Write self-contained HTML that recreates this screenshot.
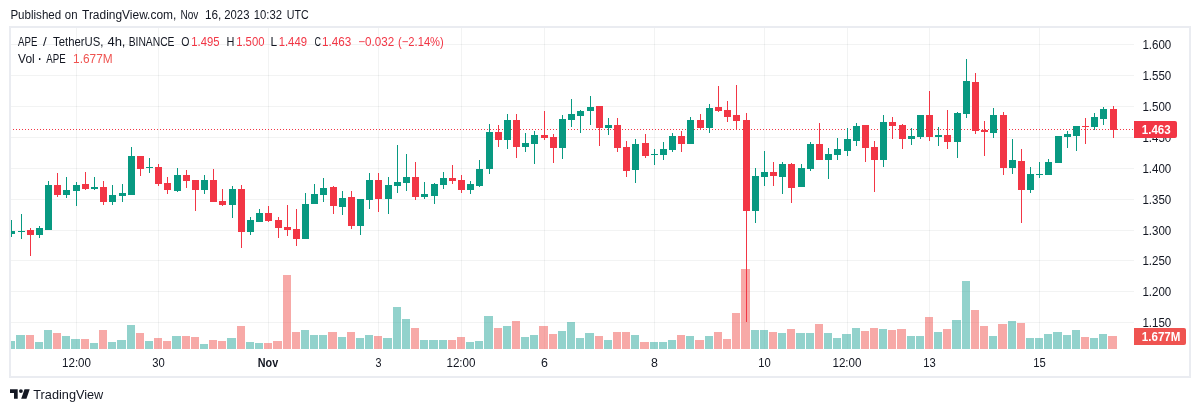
<!DOCTYPE html>
<html><head><meta charset="utf-8">
<style>
html,body{margin:0;padding:0;background:#fff;}
body{width:1200px;height:412px;position:relative;overflow:hidden;font-family:"Liberation Sans",sans-serif;}
svg{position:absolute;left:0;top:0;font-family:"Liberation Sans",sans-serif;}
.txt{will-change:transform;}
</style></head><body>
<svg width="1200" height="412" viewBox="0 0 1200 412" shape-rendering="crispEdges">
<rect x="10" y="27" width="1180" height="350" fill="none" stroke="#EAECF1" stroke-width="2"/>
<rect x="11" y="44" width="1123" height="1" fill="rgba(42,46,57,0.06)"/>
<rect x="11" y="75" width="1123" height="1" fill="rgba(42,46,57,0.06)"/>
<rect x="11" y="106" width="1123" height="1" fill="rgba(42,46,57,0.06)"/>
<rect x="11" y="137" width="1123" height="1" fill="rgba(42,46,57,0.06)"/>
<rect x="11" y="168" width="1123" height="1" fill="rgba(42,46,57,0.06)"/>
<rect x="11" y="199" width="1123" height="1" fill="rgba(42,46,57,0.06)"/>
<rect x="11" y="230" width="1123" height="1" fill="rgba(42,46,57,0.06)"/>
<rect x="11" y="260" width="1123" height="1" fill="rgba(42,46,57,0.06)"/>
<rect x="11" y="291" width="1123" height="1" fill="rgba(42,46,57,0.06)"/>
<rect x="11" y="322" width="1123" height="1" fill="rgba(42,46,57,0.06)"/>
<rect x="76" y="28" width="1" height="321" fill="rgba(42,46,57,0.06)"/>
<rect x="158" y="28" width="1" height="321" fill="rgba(42,46,57,0.06)"/>
<rect x="268" y="28" width="1" height="321" fill="rgba(42,46,57,0.06)"/>
<rect x="378" y="28" width="1" height="321" fill="rgba(42,46,57,0.06)"/>
<rect x="461" y="28" width="1" height="321" fill="rgba(42,46,57,0.06)"/>
<rect x="544" y="28" width="1" height="321" fill="rgba(42,46,57,0.06)"/>
<rect x="654" y="28" width="1" height="321" fill="rgba(42,46,57,0.06)"/>
<rect x="764" y="28" width="1" height="321" fill="rgba(42,46,57,0.06)"/>
<rect x="847" y="28" width="1" height="321" fill="rgba(42,46,57,0.06)"/>
<rect x="929" y="28" width="1" height="321" fill="rgba(42,46,57,0.06)"/>
<rect x="1039" y="28" width="1" height="321" fill="rgba(42,46,57,0.06)"/>
<rect x="11" y="341" width="4" height="8" fill="rgba(38,166,154,0.5)"/>
<rect x="16" y="335" width="9" height="14" fill="rgba(38,166,154,0.5)"/>
<rect x="26" y="335" width="8" height="14" fill="rgba(239,83,80,0.5)"/>
<rect x="35" y="342" width="8" height="7" fill="rgba(38,166,154,0.5)"/>
<rect x="44" y="330" width="8" height="19" fill="rgba(38,166,154,0.5)"/>
<rect x="53" y="333" width="8" height="16" fill="rgba(239,83,80,0.5)"/>
<rect x="62" y="336" width="8" height="13" fill="rgba(38,166,154,0.5)"/>
<rect x="71" y="339" width="9" height="10" fill="rgba(38,166,154,0.5)"/>
<rect x="81" y="339" width="8" height="10" fill="rgba(239,83,80,0.5)"/>
<rect x="90" y="343" width="8" height="6" fill="rgba(38,166,154,0.5)"/>
<rect x="99" y="330" width="8" height="19" fill="rgba(239,83,80,0.5)"/>
<rect x="108" y="342" width="8" height="7" fill="rgba(38,166,154,0.5)"/>
<rect x="117" y="340" width="9" height="9" fill="rgba(38,166,154,0.5)"/>
<rect x="127" y="325" width="8" height="24" fill="rgba(38,166,154,0.5)"/>
<rect x="136" y="333" width="8" height="16" fill="rgba(239,83,80,0.5)"/>
<rect x="145" y="341" width="8" height="8" fill="rgba(38,166,154,0.5)"/>
<rect x="154" y="338" width="8" height="11" fill="rgba(239,83,80,0.5)"/>
<rect x="163" y="341" width="8" height="8" fill="rgba(239,83,80,0.5)"/>
<rect x="172" y="336" width="9" height="13" fill="rgba(38,166,154,0.5)"/>
<rect x="182" y="336" width="8" height="13" fill="rgba(239,83,80,0.5)"/>
<rect x="191" y="337" width="8" height="12" fill="rgba(239,83,80,0.5)"/>
<rect x="200" y="344" width="8" height="5" fill="rgba(38,166,154,0.5)"/>
<rect x="209" y="340" width="8" height="9" fill="rgba(239,83,80,0.5)"/>
<rect x="218" y="341" width="8" height="8" fill="rgba(239,83,80,0.5)"/>
<rect x="227" y="338" width="9" height="11" fill="rgba(38,166,154,0.5)"/>
<rect x="237" y="326" width="8" height="23" fill="rgba(239,83,80,0.5)"/>
<rect x="246" y="342" width="8" height="7" fill="rgba(38,166,154,0.5)"/>
<rect x="255" y="343" width="8" height="6" fill="rgba(38,166,154,0.5)"/>
<rect x="264" y="343" width="8" height="6" fill="rgba(239,83,80,0.5)"/>
<rect x="273" y="341" width="9" height="8" fill="rgba(239,83,80,0.5)"/>
<rect x="283" y="275" width="8" height="74" fill="rgba(239,83,80,0.5)"/>
<rect x="292" y="332" width="8" height="17" fill="rgba(239,83,80,0.5)"/>
<rect x="301" y="330" width="8" height="19" fill="rgba(38,166,154,0.5)"/>
<rect x="310" y="335" width="8" height="14" fill="rgba(38,166,154,0.5)"/>
<rect x="319" y="335" width="8" height="14" fill="rgba(38,166,154,0.5)"/>
<rect x="328" y="332" width="9" height="17" fill="rgba(239,83,80,0.5)"/>
<rect x="338" y="337" width="8" height="12" fill="rgba(38,166,154,0.5)"/>
<rect x="347" y="332" width="8" height="17" fill="rgba(239,83,80,0.5)"/>
<rect x="356" y="338" width="8" height="11" fill="rgba(38,166,154,0.5)"/>
<rect x="365" y="335" width="8" height="14" fill="rgba(38,166,154,0.5)"/>
<rect x="374" y="336" width="8" height="13" fill="rgba(239,83,80,0.5)"/>
<rect x="383" y="338" width="9" height="11" fill="rgba(38,166,154,0.5)"/>
<rect x="393" y="307" width="8" height="42" fill="rgba(38,166,154,0.5)"/>
<rect x="402" y="319" width="8" height="30" fill="rgba(38,166,154,0.5)"/>
<rect x="411" y="328" width="8" height="21" fill="rgba(239,83,80,0.5)"/>
<rect x="420" y="340" width="8" height="9" fill="rgba(38,166,154,0.5)"/>
<rect x="429" y="340" width="9" height="9" fill="rgba(38,166,154,0.5)"/>
<rect x="439" y="340" width="8" height="9" fill="rgba(38,166,154,0.5)"/>
<rect x="448" y="340" width="8" height="9" fill="rgba(239,83,80,0.5)"/>
<rect x="457" y="337" width="8" height="12" fill="rgba(239,83,80,0.5)"/>
<rect x="466" y="342" width="8" height="7" fill="rgba(38,166,154,0.5)"/>
<rect x="475" y="341" width="8" height="8" fill="rgba(38,166,154,0.5)"/>
<rect x="484" y="316" width="9" height="33" fill="rgba(38,166,154,0.5)"/>
<rect x="494" y="328" width="8" height="21" fill="rgba(239,83,80,0.5)"/>
<rect x="503" y="326" width="8" height="23" fill="rgba(38,166,154,0.5)"/>
<rect x="512" y="321" width="8" height="28" fill="rgba(239,83,80,0.5)"/>
<rect x="521" y="337" width="8" height="12" fill="rgba(38,166,154,0.5)"/>
<rect x="530" y="335" width="8" height="14" fill="rgba(38,166,154,0.5)"/>
<rect x="539" y="326" width="9" height="23" fill="rgba(239,83,80,0.5)"/>
<rect x="549" y="334" width="8" height="15" fill="rgba(239,83,80,0.5)"/>
<rect x="558" y="331" width="8" height="18" fill="rgba(38,166,154,0.5)"/>
<rect x="567" y="322" width="8" height="27" fill="rgba(38,166,154,0.5)"/>
<rect x="576" y="338" width="8" height="11" fill="rgba(38,166,154,0.5)"/>
<rect x="585" y="333" width="9" height="16" fill="rgba(38,166,154,0.5)"/>
<rect x="595" y="336" width="8" height="13" fill="rgba(239,83,80,0.5)"/>
<rect x="604" y="340" width="8" height="9" fill="rgba(38,166,154,0.5)"/>
<rect x="613" y="332" width="8" height="17" fill="rgba(239,83,80,0.5)"/>
<rect x="622" y="332" width="8" height="17" fill="rgba(239,83,80,0.5)"/>
<rect x="631" y="335" width="8" height="14" fill="rgba(38,166,154,0.5)"/>
<rect x="640" y="342" width="9" height="7" fill="rgba(239,83,80,0.5)"/>
<rect x="650" y="342" width="8" height="7" fill="rgba(38,166,154,0.5)"/>
<rect x="659" y="342" width="8" height="7" fill="rgba(38,166,154,0.5)"/>
<rect x="668" y="340" width="8" height="9" fill="rgba(38,166,154,0.5)"/>
<rect x="677" y="335" width="8" height="14" fill="rgba(239,83,80,0.5)"/>
<rect x="686" y="336" width="8" height="13" fill="rgba(38,166,154,0.5)"/>
<rect x="695" y="340" width="9" height="9" fill="rgba(239,83,80,0.5)"/>
<rect x="705" y="336" width="8" height="13" fill="rgba(38,166,154,0.5)"/>
<rect x="714" y="332" width="8" height="17" fill="rgba(239,83,80,0.5)"/>
<rect x="723" y="339" width="8" height="10" fill="rgba(239,83,80,0.5)"/>
<rect x="732" y="313" width="8" height="36" fill="rgba(239,83,80,0.5)"/>
<rect x="741" y="269" width="9" height="80" fill="rgba(239,83,80,0.5)"/>
<rect x="751" y="330" width="8" height="19" fill="rgba(38,166,154,0.5)"/>
<rect x="760" y="330" width="8" height="19" fill="rgba(38,166,154,0.5)"/>
<rect x="769" y="332" width="8" height="17" fill="rgba(239,83,80,0.5)"/>
<rect x="778" y="333" width="8" height="16" fill="rgba(38,166,154,0.5)"/>
<rect x="787" y="329" width="8" height="20" fill="rgba(239,83,80,0.5)"/>
<rect x="796" y="333" width="9" height="16" fill="rgba(38,166,154,0.5)"/>
<rect x="806" y="333" width="8" height="16" fill="rgba(38,166,154,0.5)"/>
<rect x="815" y="324" width="8" height="25" fill="rgba(239,83,80,0.5)"/>
<rect x="824" y="333" width="8" height="16" fill="rgba(38,166,154,0.5)"/>
<rect x="833" y="338" width="8" height="11" fill="rgba(38,166,154,0.5)"/>
<rect x="842" y="334" width="9" height="15" fill="rgba(38,166,154,0.5)"/>
<rect x="852" y="328" width="8" height="21" fill="rgba(38,166,154,0.5)"/>
<rect x="861" y="331" width="8" height="18" fill="rgba(239,83,80,0.5)"/>
<rect x="870" y="328" width="8" height="21" fill="rgba(239,83,80,0.5)"/>
<rect x="879" y="329" width="8" height="20" fill="rgba(38,166,154,0.5)"/>
<rect x="888" y="330" width="8" height="19" fill="rgba(239,83,80,0.5)"/>
<rect x="897" y="329" width="9" height="20" fill="rgba(239,83,80,0.5)"/>
<rect x="907" y="336" width="8" height="13" fill="rgba(38,166,154,0.5)"/>
<rect x="916" y="336" width="8" height="13" fill="rgba(38,166,154,0.5)"/>
<rect x="925" y="317" width="8" height="32" fill="rgba(239,83,80,0.5)"/>
<rect x="934" y="332" width="8" height="17" fill="rgba(38,166,154,0.5)"/>
<rect x="943" y="329" width="8" height="20" fill="rgba(239,83,80,0.5)"/>
<rect x="952" y="320" width="9" height="29" fill="rgba(38,166,154,0.5)"/>
<rect x="962" y="281" width="8" height="68" fill="rgba(38,166,154,0.5)"/>
<rect x="971" y="310" width="8" height="39" fill="rgba(239,83,80,0.5)"/>
<rect x="980" y="326" width="8" height="23" fill="rgba(239,83,80,0.5)"/>
<rect x="989" y="336" width="8" height="13" fill="rgba(38,166,154,0.5)"/>
<rect x="998" y="324" width="9" height="25" fill="rgba(239,83,80,0.5)"/>
<rect x="1008" y="321" width="8" height="28" fill="rgba(38,166,154,0.5)"/>
<rect x="1017" y="323" width="8" height="26" fill="rgba(239,83,80,0.5)"/>
<rect x="1026" y="338" width="8" height="11" fill="rgba(38,166,154,0.5)"/>
<rect x="1035" y="338" width="8" height="11" fill="rgba(38,166,154,0.5)"/>
<rect x="1044" y="334" width="8" height="15" fill="rgba(38,166,154,0.5)"/>
<rect x="1053" y="332" width="9" height="17" fill="rgba(38,166,154,0.5)"/>
<rect x="1063" y="335" width="8" height="14" fill="rgba(38,166,154,0.5)"/>
<rect x="1072" y="330" width="8" height="19" fill="rgba(38,166,154,0.5)"/>
<rect x="1081" y="337" width="8" height="12" fill="rgba(239,83,80,0.5)"/>
<rect x="1090" y="338" width="8" height="11" fill="rgba(38,166,154,0.5)"/>
<rect x="1099" y="334" width="8" height="15" fill="rgba(38,166,154,0.5)"/>
<rect x="1108" y="336" width="9" height="13" fill="rgba(239,83,80,0.5)"/>
<path d="M11 129.5 H1134" stroke="#F23645" stroke-width="1" stroke-dasharray="1 2" stroke-dashoffset="-2"/>
<rect x="11" y="220" width="1" height="17" fill="#089981"/>
<rect x="11" y="231" width="4" height="3" fill="#089981"/>
<rect x="21" y="214" width="1" height="25" fill="#089981"/>
<rect x="18" y="231" width="7" height="1" fill="#089981"/>
<rect x="30" y="228" width="1" height="28" fill="#F23645"/>
<rect x="27" y="230" width="7" height="5" fill="#F23645"/>
<rect x="39" y="226" width="1" height="12" fill="#089981"/>
<rect x="36" y="228" width="7" height="7" fill="#089981"/>
<rect x="48" y="181" width="1" height="49" fill="#089981"/>
<rect x="45" y="185" width="7" height="45" fill="#089981"/>
<rect x="57" y="173" width="1" height="24" fill="#F23645"/>
<rect x="54" y="185" width="7" height="10" fill="#F23645"/>
<rect x="66" y="177" width="1" height="21" fill="#089981"/>
<rect x="63" y="190" width="7" height="5" fill="#089981"/>
<rect x="76" y="182" width="1" height="24" fill="#089981"/>
<rect x="73" y="185" width="7" height="6" fill="#089981"/>
<rect x="85" y="172" width="1" height="18" fill="#F23645"/>
<rect x="82" y="184" width="7" height="5" fill="#F23645"/>
<rect x="94" y="177" width="1" height="13" fill="#089981"/>
<rect x="91" y="187" width="7" height="2" fill="#089981"/>
<rect x="103" y="181" width="1" height="24" fill="#F23645"/>
<rect x="100" y="187" width="7" height="15" fill="#F23645"/>
<rect x="112" y="185" width="1" height="20" fill="#089981"/>
<rect x="109" y="195" width="7" height="7" fill="#089981"/>
<rect x="122" y="184" width="1" height="18" fill="#089981"/>
<rect x="119" y="193" width="7" height="3" fill="#089981"/>
<rect x="131" y="147" width="1" height="48" fill="#089981"/>
<rect x="128" y="156" width="7" height="39" fill="#089981"/>
<rect x="140" y="156" width="1" height="20" fill="#F23645"/>
<rect x="137" y="156" width="7" height="13" fill="#F23645"/>
<rect x="149" y="158" width="1" height="15" fill="#089981"/>
<rect x="146" y="167" width="7" height="1" fill="#089981"/>
<rect x="158" y="164" width="1" height="22" fill="#F23645"/>
<rect x="155" y="167" width="7" height="17" fill="#F23645"/>
<rect x="167" y="177" width="1" height="17" fill="#F23645"/>
<rect x="164" y="183" width="7" height="7" fill="#F23645"/>
<rect x="177" y="168" width="1" height="24" fill="#089981"/>
<rect x="174" y="175" width="7" height="16" fill="#089981"/>
<rect x="186" y="170" width="1" height="18" fill="#F23645"/>
<rect x="183" y="175" width="7" height="6" fill="#F23645"/>
<rect x="195" y="180" width="1" height="31" fill="#F23645"/>
<rect x="192" y="180" width="7" height="10" fill="#F23645"/>
<rect x="204" y="175" width="1" height="19" fill="#089981"/>
<rect x="201" y="180" width="7" height="10" fill="#089981"/>
<rect x="213" y="169" width="1" height="33" fill="#F23645"/>
<rect x="210" y="180" width="7" height="22" fill="#F23645"/>
<rect x="222" y="189" width="1" height="17" fill="#F23645"/>
<rect x="219" y="201" width="7" height="4" fill="#F23645"/>
<rect x="232" y="186" width="1" height="32" fill="#089981"/>
<rect x="229" y="189" width="7" height="16" fill="#089981"/>
<rect x="241" y="185" width="1" height="63" fill="#F23645"/>
<rect x="238" y="189" width="7" height="43" fill="#F23645"/>
<rect x="250" y="217" width="1" height="18" fill="#089981"/>
<rect x="247" y="220" width="7" height="12" fill="#089981"/>
<rect x="259" y="209" width="1" height="13" fill="#089981"/>
<rect x="256" y="213" width="7" height="9" fill="#089981"/>
<rect x="268" y="206" width="1" height="16" fill="#F23645"/>
<rect x="265" y="213" width="7" height="8" fill="#F23645"/>
<rect x="278" y="217" width="1" height="21" fill="#F23645"/>
<rect x="275" y="220" width="7" height="8" fill="#F23645"/>
<rect x="287" y="205" width="1" height="31" fill="#F23645"/>
<rect x="284" y="227" width="7" height="3" fill="#F23645"/>
<rect x="296" y="209" width="1" height="37" fill="#F23645"/>
<rect x="293" y="229" width="7" height="10" fill="#F23645"/>
<rect x="305" y="193" width="1" height="46" fill="#089981"/>
<rect x="302" y="204" width="7" height="35" fill="#089981"/>
<rect x="314" y="184" width="1" height="20" fill="#089981"/>
<rect x="311" y="194" width="7" height="10" fill="#089981"/>
<rect x="323" y="178" width="1" height="24" fill="#089981"/>
<rect x="320" y="188" width="7" height="7" fill="#089981"/>
<rect x="333" y="186" width="1" height="28" fill="#F23645"/>
<rect x="330" y="187" width="7" height="19" fill="#F23645"/>
<rect x="342" y="191" width="1" height="24" fill="#089981"/>
<rect x="339" y="198" width="7" height="9" fill="#089981"/>
<rect x="351" y="191" width="1" height="38" fill="#F23645"/>
<rect x="348" y="197" width="7" height="29" fill="#F23645"/>
<rect x="360" y="199" width="1" height="36" fill="#089981"/>
<rect x="357" y="199" width="7" height="27" fill="#089981"/>
<rect x="369" y="173" width="1" height="36" fill="#089981"/>
<rect x="366" y="180" width="7" height="20" fill="#089981"/>
<rect x="378" y="173" width="1" height="39" fill="#F23645"/>
<rect x="375" y="180" width="7" height="19" fill="#F23645"/>
<rect x="388" y="177" width="1" height="37" fill="#089981"/>
<rect x="385" y="185" width="7" height="14" fill="#089981"/>
<rect x="397" y="145" width="1" height="48" fill="#089981"/>
<rect x="394" y="182" width="7" height="4" fill="#089981"/>
<rect x="406" y="154" width="1" height="37" fill="#089981"/>
<rect x="403" y="177" width="7" height="6" fill="#089981"/>
<rect x="415" y="162" width="1" height="38" fill="#F23645"/>
<rect x="412" y="177" width="7" height="20" fill="#F23645"/>
<rect x="424" y="182" width="1" height="17" fill="#089981"/>
<rect x="421" y="194" width="7" height="3" fill="#089981"/>
<rect x="434" y="183" width="1" height="21" fill="#089981"/>
<rect x="431" y="184" width="7" height="12" fill="#089981"/>
<rect x="443" y="172" width="1" height="17" fill="#089981"/>
<rect x="440" y="178" width="7" height="7" fill="#089981"/>
<rect x="452" y="165" width="1" height="19" fill="#F23645"/>
<rect x="449" y="178" width="7" height="3" fill="#F23645"/>
<rect x="461" y="175" width="1" height="18" fill="#F23645"/>
<rect x="458" y="180" width="7" height="10" fill="#F23645"/>
<rect x="470" y="181" width="1" height="13" fill="#089981"/>
<rect x="467" y="184" width="7" height="6" fill="#089981"/>
<rect x="479" y="160" width="1" height="27" fill="#089981"/>
<rect x="476" y="169" width="7" height="17" fill="#089981"/>
<rect x="489" y="124" width="1" height="50" fill="#089981"/>
<rect x="486" y="132" width="7" height="37" fill="#089981"/>
<rect x="498" y="125" width="1" height="22" fill="#F23645"/>
<rect x="495" y="132" width="7" height="8" fill="#F23645"/>
<rect x="507" y="114" width="1" height="35" fill="#089981"/>
<rect x="504" y="120" width="7" height="20" fill="#089981"/>
<rect x="516" y="114" width="1" height="44" fill="#F23645"/>
<rect x="513" y="120" width="7" height="27" fill="#F23645"/>
<rect x="525" y="133" width="1" height="19" fill="#089981"/>
<rect x="522" y="143" width="7" height="4" fill="#089981"/>
<rect x="534" y="131" width="1" height="33" fill="#089981"/>
<rect x="531" y="135" width="7" height="9" fill="#089981"/>
<rect x="544" y="111" width="1" height="29" fill="#F23645"/>
<rect x="541" y="135" width="7" height="3" fill="#F23645"/>
<rect x="553" y="134" width="1" height="29" fill="#F23645"/>
<rect x="550" y="137" width="7" height="11" fill="#F23645"/>
<rect x="562" y="115" width="1" height="44" fill="#089981"/>
<rect x="559" y="119" width="7" height="29" fill="#089981"/>
<rect x="571" y="99" width="1" height="28" fill="#089981"/>
<rect x="568" y="114" width="7" height="6" fill="#089981"/>
<rect x="580" y="110" width="1" height="23" fill="#089981"/>
<rect x="577" y="111" width="7" height="5" fill="#089981"/>
<rect x="590" y="96" width="1" height="29" fill="#089981"/>
<rect x="587" y="107" width="7" height="4" fill="#089981"/>
<rect x="599" y="106" width="1" height="40" fill="#F23645"/>
<rect x="596" y="106" width="7" height="22" fill="#F23645"/>
<rect x="608" y="118" width="1" height="17" fill="#089981"/>
<rect x="605" y="125" width="7" height="3" fill="#089981"/>
<rect x="617" y="118" width="1" height="34" fill="#F23645"/>
<rect x="614" y="125" width="7" height="23" fill="#F23645"/>
<rect x="626" y="141" width="1" height="36" fill="#F23645"/>
<rect x="623" y="147" width="7" height="24" fill="#F23645"/>
<rect x="635" y="139" width="1" height="44" fill="#089981"/>
<rect x="632" y="144" width="7" height="26" fill="#089981"/>
<rect x="645" y="134" width="1" height="24" fill="#F23645"/>
<rect x="642" y="143" width="7" height="13" fill="#F23645"/>
<rect x="654" y="149" width="1" height="16" fill="#089981"/>
<rect x="651" y="154" width="7" height="1" fill="#089981"/>
<rect x="663" y="142" width="1" height="18" fill="#089981"/>
<rect x="660" y="149" width="7" height="6" fill="#089981"/>
<rect x="672" y="133" width="1" height="19" fill="#089981"/>
<rect x="669" y="136" width="7" height="14" fill="#089981"/>
<rect x="681" y="131" width="1" height="21" fill="#F23645"/>
<rect x="678" y="136" width="7" height="8" fill="#F23645"/>
<rect x="690" y="117" width="1" height="27" fill="#089981"/>
<rect x="687" y="120" width="7" height="24" fill="#089981"/>
<rect x="700" y="114" width="1" height="16" fill="#F23645"/>
<rect x="697" y="120" width="7" height="8" fill="#F23645"/>
<rect x="709" y="104" width="1" height="29" fill="#089981"/>
<rect x="706" y="108" width="7" height="20" fill="#089981"/>
<rect x="718" y="86" width="1" height="26" fill="#F23645"/>
<rect x="715" y="107" width="7" height="4" fill="#F23645"/>
<rect x="727" y="101" width="1" height="21" fill="#F23645"/>
<rect x="724" y="110" width="7" height="7" fill="#F23645"/>
<rect x="736" y="85" width="1" height="45" fill="#F23645"/>
<rect x="733" y="115" width="7" height="6" fill="#F23645"/>
<rect x="746" y="113" width="1" height="209" fill="#F23645"/>
<rect x="743" y="120" width="7" height="91" fill="#F23645"/>
<rect x="755" y="168" width="1" height="55" fill="#089981"/>
<rect x="752" y="176" width="7" height="35" fill="#089981"/>
<rect x="764" y="151" width="1" height="35" fill="#089981"/>
<rect x="761" y="172" width="7" height="5" fill="#089981"/>
<rect x="773" y="162" width="1" height="24" fill="#F23645"/>
<rect x="770" y="172" width="7" height="4" fill="#F23645"/>
<rect x="782" y="162" width="1" height="32" fill="#089981"/>
<rect x="779" y="164" width="7" height="13" fill="#089981"/>
<rect x="791" y="163" width="1" height="40" fill="#F23645"/>
<rect x="788" y="164" width="7" height="24" fill="#F23645"/>
<rect x="801" y="164" width="1" height="23" fill="#089981"/>
<rect x="798" y="168" width="7" height="19" fill="#089981"/>
<rect x="810" y="142" width="1" height="29" fill="#089981"/>
<rect x="807" y="144" width="7" height="25" fill="#089981"/>
<rect x="819" y="123" width="1" height="37" fill="#F23645"/>
<rect x="816" y="144" width="7" height="16" fill="#F23645"/>
<rect x="828" y="148" width="1" height="31" fill="#089981"/>
<rect x="825" y="154" width="7" height="6" fill="#089981"/>
<rect x="837" y="138" width="1" height="22" fill="#089981"/>
<rect x="834" y="149" width="7" height="6" fill="#089981"/>
<rect x="847" y="128" width="1" height="28" fill="#089981"/>
<rect x="844" y="139" width="7" height="12" fill="#089981"/>
<rect x="856" y="123" width="1" height="23" fill="#089981"/>
<rect x="853" y="126" width="7" height="15" fill="#089981"/>
<rect x="865" y="125" width="1" height="37" fill="#F23645"/>
<rect x="862" y="125" width="7" height="23" fill="#F23645"/>
<rect x="874" y="141" width="1" height="51" fill="#F23645"/>
<rect x="871" y="147" width="7" height="13" fill="#F23645"/>
<rect x="883" y="115" width="1" height="52" fill="#089981"/>
<rect x="880" y="122" width="7" height="38" fill="#089981"/>
<rect x="892" y="117" width="1" height="22" fill="#F23645"/>
<rect x="889" y="122" width="7" height="4" fill="#F23645"/>
<rect x="902" y="124" width="1" height="25" fill="#F23645"/>
<rect x="899" y="125" width="7" height="14" fill="#F23645"/>
<rect x="911" y="128" width="1" height="17" fill="#089981"/>
<rect x="908" y="136" width="7" height="3" fill="#089981"/>
<rect x="920" y="115" width="1" height="24" fill="#089981"/>
<rect x="917" y="115" width="7" height="22" fill="#089981"/>
<rect x="929" y="91" width="1" height="50" fill="#F23645"/>
<rect x="926" y="115" width="7" height="22" fill="#F23645"/>
<rect x="938" y="127" width="1" height="19" fill="#089981"/>
<rect x="935" y="135" width="7" height="2" fill="#089981"/>
<rect x="947" y="110" width="1" height="39" fill="#F23645"/>
<rect x="944" y="135" width="7" height="7" fill="#F23645"/>
<rect x="957" y="112" width="1" height="46" fill="#089981"/>
<rect x="954" y="113" width="7" height="29" fill="#089981"/>
<rect x="966" y="59" width="1" height="59" fill="#089981"/>
<rect x="963" y="81" width="7" height="33" fill="#089981"/>
<rect x="975" y="73" width="1" height="61" fill="#F23645"/>
<rect x="972" y="82" width="7" height="49" fill="#F23645"/>
<rect x="984" y="121" width="1" height="35" fill="#F23645"/>
<rect x="981" y="130" width="7" height="2" fill="#F23645"/>
<rect x="993" y="108" width="1" height="30" fill="#089981"/>
<rect x="990" y="115" width="7" height="18" fill="#089981"/>
<rect x="1003" y="112" width="1" height="63" fill="#F23645"/>
<rect x="1000" y="115" width="7" height="53" fill="#F23645"/>
<rect x="1012" y="139" width="1" height="35" fill="#089981"/>
<rect x="1009" y="160" width="7" height="8" fill="#089981"/>
<rect x="1021" y="149" width="1" height="74" fill="#F23645"/>
<rect x="1018" y="161" width="7" height="29" fill="#F23645"/>
<rect x="1030" y="167" width="1" height="26" fill="#089981"/>
<rect x="1027" y="174" width="7" height="16" fill="#089981"/>
<rect x="1039" y="162" width="1" height="16" fill="#089981"/>
<rect x="1036" y="174" width="7" height="1" fill="#089981"/>
<rect x="1048" y="159" width="1" height="16" fill="#089981"/>
<rect x="1045" y="162" width="7" height="13" fill="#089981"/>
<rect x="1058" y="136" width="1" height="27" fill="#089981"/>
<rect x="1055" y="136" width="7" height="27" fill="#089981"/>
<rect x="1067" y="131" width="1" height="17" fill="#089981"/>
<rect x="1064" y="134" width="7" height="3" fill="#089981"/>
<rect x="1076" y="126" width="1" height="25" fill="#089981"/>
<rect x="1073" y="126" width="7" height="10" fill="#089981"/>
<rect x="1085" y="118" width="1" height="26" fill="#F23645"/>
<rect x="1082" y="126" width="7" height="1" fill="#F23645"/>
<rect x="1094" y="113" width="1" height="17" fill="#089981"/>
<rect x="1091" y="117" width="7" height="10" fill="#089981"/>
<rect x="1103" y="107" width="1" height="18" fill="#089981"/>
<rect x="1100" y="109" width="7" height="10" fill="#089981"/>
<rect x="1113" y="106" width="1" height="32" fill="#F23645"/>
<rect x="1110" y="109" width="7" height="21" fill="#F23645"/>
</svg>
<svg class="txt" width="1200" height="412" viewBox="0 0 1200 412">
<text x="10.40" y="19" textLength="50.80" lengthAdjust="spacingAndGlyphs" style="font-size:12.3px;font-weight:normal;fill:#131722">Published</text>
<text x="64.80" y="19" textLength="12.70" lengthAdjust="spacingAndGlyphs" style="font-size:12.3px;font-weight:normal;fill:#131722">on</text>
<text x="82.05" y="19" textLength="94.25" lengthAdjust="spacingAndGlyphs" style="font-size:12.3px;font-weight:normal;fill:#131722">TradingView.com,</text>
<text x="180.50" y="19" textLength="17.90" lengthAdjust="spacingAndGlyphs" style="font-size:12.3px;font-weight:normal;fill:#131722">Nov</text>
<text x="204.90" y="19" textLength="16.40" lengthAdjust="spacingAndGlyphs" style="font-size:12.3px;font-weight:normal;fill:#131722">16,</text>
<text x="224.30" y="19" textLength="25.15" lengthAdjust="spacingAndGlyphs" style="font-size:12.3px;font-weight:normal;fill:#131722">2023</text>
<text x="253.70" y="19" textLength="28.30" lengthAdjust="spacingAndGlyphs" style="font-size:12.3px;font-weight:normal;fill:#131722">10:32</text>
<text x="286.80" y="19" textLength="21.90" lengthAdjust="spacingAndGlyphs" style="font-size:12.3px;font-weight:normal;fill:#131722">UTC</text>
<text x="18.10" y="46" textLength="19.30" lengthAdjust="spacingAndGlyphs" style="font-size:12.3px;font-weight:normal;fill:#131722">APE</text>
<text x="43.05" y="46" textLength="3.75" lengthAdjust="spacingAndGlyphs" style="font-size:12.3px;font-weight:normal;fill:#131722">/</text>
<text x="53.10" y="46" textLength="50.35" lengthAdjust="spacingAndGlyphs" style="font-size:12.3px;font-weight:normal;fill:#131722">TetherUS,</text>
<text x="107.40" y="46" textLength="18.10" lengthAdjust="spacingAndGlyphs" style="font-size:12.3px;font-weight:normal;fill:#131722">4h,</text>
<text x="128.70" y="46" textLength="45.80" lengthAdjust="spacingAndGlyphs" style="font-size:12.3px;font-weight:normal;fill:#131722">BINANCE</text>
<text x="181.30" y="46" textLength="8.20" lengthAdjust="spacingAndGlyphs" style="font-size:12.3px;font-weight:normal;fill:#131722">O</text>
<text x="191.30" y="46" textLength="28.20" lengthAdjust="spacingAndGlyphs" style="font-size:12.3px;font-weight:normal;fill:#F23645">1.495</text>
<text x="226.60" y="46" textLength="7.90" lengthAdjust="spacingAndGlyphs" style="font-size:12.3px;font-weight:normal;fill:#131722">H</text>
<text x="236.20" y="46" textLength="28.25" lengthAdjust="spacingAndGlyphs" style="font-size:12.3px;font-weight:normal;fill:#F23645">1.500</text>
<text x="270.60" y="46" textLength="6.60" lengthAdjust="spacingAndGlyphs" style="font-size:12.3px;font-weight:normal;fill:#131722">L</text>
<text x="278.70" y="46" textLength="28.30" lengthAdjust="spacingAndGlyphs" style="font-size:12.3px;font-weight:normal;fill:#F23645">1.449</text>
<text x="314.50" y="46" textLength="6.50" lengthAdjust="spacingAndGlyphs" style="font-size:12.3px;font-weight:normal;fill:#131722">C</text>
<text x="322.00" y="46" textLength="29.30" lengthAdjust="spacingAndGlyphs" style="font-size:12.3px;font-weight:normal;fill:#F23645">1.463</text>
<text x="358.30" y="46" textLength="35.90" lengthAdjust="spacingAndGlyphs" style="font-size:12.3px;font-weight:normal;fill:#F23645">−0.032</text>
<text x="398.05" y="46" textLength="45.75" lengthAdjust="spacingAndGlyphs" style="font-size:12.3px;font-weight:normal;fill:#F23645">(−2.14%)</text>
<text x="18.10" y="63" textLength="16.60" lengthAdjust="spacingAndGlyphs" style="font-size:12.3px;font-weight:normal;fill:#131722">Vol</text>
<text x="38.30" y="63" textLength="3.40" lengthAdjust="spacingAndGlyphs" style="font-size:12.3px;font-weight:bold;fill:#131722">·</text>
<text x="46.30" y="63" textLength="19.40" lengthAdjust="spacingAndGlyphs" style="font-size:12.3px;font-weight:normal;fill:#131722">APE</text>
<text x="73.10" y="63" textLength="39.50" lengthAdjust="spacingAndGlyphs" style="font-size:12.3px;font-weight:normal;fill:#EF5350">1.677M</text>
<text x="33.30" y="399" textLength="70.00" lengthAdjust="spacingAndGlyphs" style="font-size:12.8px;font-weight:normal;fill:#131722">TradingView</text>
<text x="1142.40" y="49" textLength="28.90" lengthAdjust="spacingAndGlyphs" style="font-size:12.3px;font-weight:normal;fill:#131722">1.600</text>
<text x="1142.40" y="80" textLength="28.90" lengthAdjust="spacingAndGlyphs" style="font-size:12.3px;font-weight:normal;fill:#131722">1.550</text>
<text x="1142.40" y="111" textLength="28.90" lengthAdjust="spacingAndGlyphs" style="font-size:12.3px;font-weight:normal;fill:#131722">1.500</text>
<text x="1142.40" y="142" textLength="28.90" lengthAdjust="spacingAndGlyphs" style="font-size:12.3px;font-weight:normal;fill:#131722">1.450</text>
<text x="1142.40" y="173" textLength="28.90" lengthAdjust="spacingAndGlyphs" style="font-size:12.3px;font-weight:normal;fill:#131722">1.400</text>
<text x="1142.40" y="204" textLength="28.90" lengthAdjust="spacingAndGlyphs" style="font-size:12.3px;font-weight:normal;fill:#131722">1.350</text>
<text x="1142.40" y="235" textLength="28.90" lengthAdjust="spacingAndGlyphs" style="font-size:12.3px;font-weight:normal;fill:#131722">1.300</text>
<text x="1142.40" y="265" textLength="28.90" lengthAdjust="spacingAndGlyphs" style="font-size:12.3px;font-weight:normal;fill:#131722">1.250</text>
<text x="1142.40" y="296" textLength="28.90" lengthAdjust="spacingAndGlyphs" style="font-size:12.3px;font-weight:normal;fill:#131722">1.200</text>
<text x="1142.40" y="327" textLength="28.90" lengthAdjust="spacingAndGlyphs" style="font-size:12.3px;font-weight:normal;fill:#131722">1.150</text>
<text x="62.00" y="367" textLength="29.00" lengthAdjust="spacingAndGlyphs" style="font-size:12.3px;font-weight:normal;fill:#131722">12:00</text>
<text x="152.25" y="367" textLength="12.50" lengthAdjust="spacingAndGlyphs" style="font-size:12.3px;font-weight:normal;fill:#131722">30</text>
<text x="257.80" y="367" textLength="20.40" lengthAdjust="spacingAndGlyphs" style="font-size:12.3px;font-weight:bold;fill:#131722">Nov</text>
<text x="375.50" y="367" textLength="6.00" lengthAdjust="spacingAndGlyphs" style="font-size:12.3px;font-weight:normal;fill:#131722">3</text>
<text x="446.45" y="367" textLength="29.10" lengthAdjust="spacingAndGlyphs" style="font-size:12.3px;font-weight:normal;fill:#131722">12:00</text>
<text x="541.05" y="367" textLength="6.90" lengthAdjust="spacingAndGlyphs" style="font-size:12.3px;font-weight:normal;fill:#131722">6</text>
<text x="651.05" y="367" textLength="6.90" lengthAdjust="spacingAndGlyphs" style="font-size:12.3px;font-weight:normal;fill:#131722">8</text>
<text x="758.25" y="367" textLength="12.50" lengthAdjust="spacingAndGlyphs" style="font-size:12.3px;font-weight:normal;fill:#131722">10</text>
<text x="832.45" y="367" textLength="29.10" lengthAdjust="spacingAndGlyphs" style="font-size:12.3px;font-weight:normal;fill:#131722">12:00</text>
<text x="923.25" y="367" textLength="12.50" lengthAdjust="spacingAndGlyphs" style="font-size:12.3px;font-weight:normal;fill:#131722">13</text>
<text x="1033.25" y="367" textLength="12.50" lengthAdjust="spacingAndGlyphs" style="font-size:12.3px;font-weight:normal;fill:#131722">15</text>
<path d="M1134 121 H1175 Q1177 121 1177 123 V136 Q1177 138 1175 138 H1134 Z" fill="#F23645"/>
<path d="M1134 328 H1184 Q1186 328 1186 330 V343 Q1186 345 1184 345 H1134 Z" fill="#EF5350"/>
<text x="1141.80" y="134" textLength="28.90" lengthAdjust="spacingAndGlyphs" style="font-size:12.3px;font-weight:bold;fill:#FFFFFF">1.463</text>
<text x="1141.80" y="341" textLength="38.60" lengthAdjust="spacingAndGlyphs" style="font-size:12.3px;font-weight:bold;fill:#FFFFFF">1.677M</text>
<g fill="#131722">
<path d="M10 389.2 H17.7 V398.8 H14 V393 H10 Z"/>
<circle cx="20.9" cy="391.1" r="1.9"/>
<path d="M24.5 389.2 H29.7 L26.45 398.8 H21.2 Z"/>
</g>
</svg>
</body></html>
